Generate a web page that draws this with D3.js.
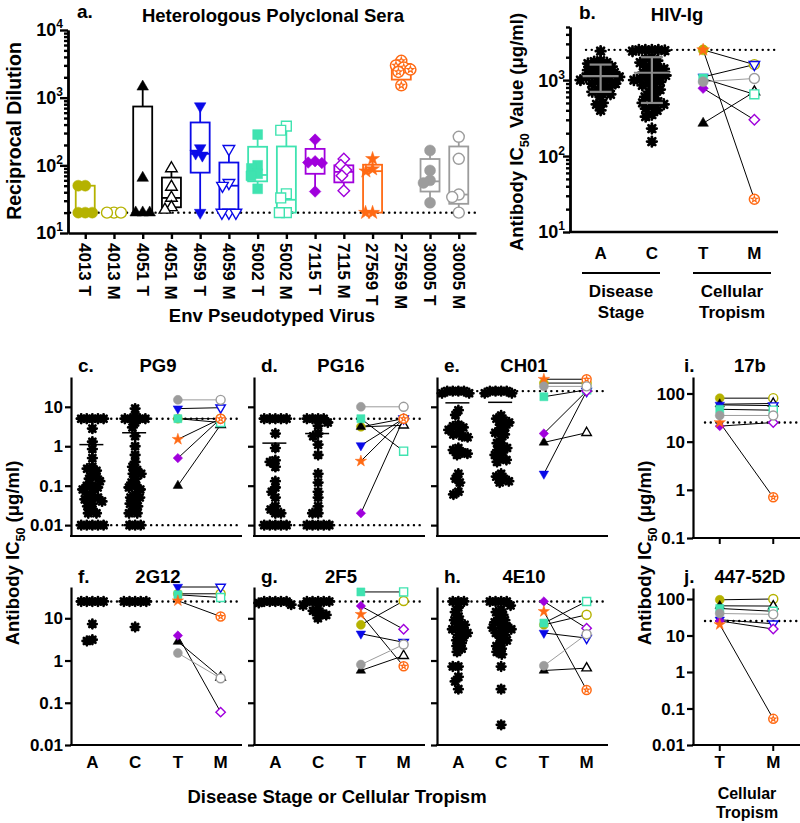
<!DOCTYPE html>
<html>
<head>
<meta charset="utf-8">
<script src="https://cdn.jsdelivr.net/npm/d3@7"></script>
<style>
  body { margin: 0; background: #fff; }
  text { font-family: 'Liberation Sans', Arial, sans-serif; font-weight: bold; fill: #000; }
</style>
</head>
<body>
<svg id="fig" width="800" height="823"></svg>
<script>
// ---- data ----
const viruses = ['4013', '4051', '4059', '5002', '7115', '27569', '30005']
const virusColor = ['#b5b200', '#000000', '#0a0ae8', '#3fe3b0', '#a000dc', '#ff6a14', '#9c9c9c']
const virusShape = ['circle', 'triangleUp', 'triangleDown', 'square', 'diamond', 'star', 'circle']

// panel a: heterologous polyclonal sera
const seraLabels = viruses.flatMap(v => [v + ' T', v + ' M'])
const seraPoints = [
    [50, 50, 20, 20, 20],
    [20, 20, 20],
    [1450, 65, 20, 20, 20],
    [90, 48, 33, 24, 22],
    [750, 180, 150, 140, 20],
    [175, 55, 50, 20, 20, 20],
    [285, 100, 90, 75, 70, 45],
    [380, 330, 38, 33, 20, 20],
    [240, 115, 110, 108, 41],
    [124, 100, 85, 70, 42],
    [125, 88, 82, 20, 20],
    [3500, 3000, 2800, 2600, 2400, 1520],
    [166, 84, 60, 55, 28],
    [264, 125, 37, 34, 20]
]
// min, q1, median, q3, max
const seraBoxes = [
    [20, 20, 20, 50, 50],
    [20, 20, 20, 20, 20],
    [20, 20, 20, 740, 1450],
    [22, 24, 33, 66, 90],
    [20, 78, 148, 430, 750],
    [20, 22, 50, 110, 175],
    [45, 58, 72, 188, 285],
    [20, 20, 31, 190, 380],
    [41, 75, 110, 175, 240],
    [42, 56, 80, 100, 124],
    [20, 20, 82, 102, 125],
    [1520, 1850, 2600, 3150, 3500],
    [28, 41, 58, 124, 166],
    [20, 27, 37, 190, 264]
]
const seraCutoff = 20

// panel b: HIV-Ig
const stageCats = ['A', 'C', 'T', 'M']
const hivigAcute = [2400, 1800, 1750, 1700, 1650, 1500, 1450, 1400, 1350, 1300, 1250, 1200, 1150, 1100, 1100, 1050, 1000, 1000, 950, 900, 900, 850, 800, 750, 700, 700, 650, 600, 500, 480, 400]
const hivigChronic = [2500, 2500, 2500, 2500, 2450, 2400, 2000, 1900, 1800, 1700, 1600, 1500, 1450, 1400, 1300, 1250, 1200, 1150, 1100, 1050, 1000, 1000, 950, 900, 850, 800, 750, 700, 650, 600, 550, 520, 500, 480, 450, 420, 400, 350, 330, 230, 155]
const hivigMeanSd = [[1130, 700, 1600], [1250, 500, 2000]]
const hivigT = [2500, 270, 1100, 1050, 780, 2500, 950]
const hivigM = [1600, 700, 1600, 650, 300, 27, 1050]
const hivigCutoff = 2500

// panels c-j: monoclonal antibodies (T / M ordered like viruses)
const pg9Acute = [5, 5, 5, 5, 5, 2.8, 1.3, 0.85, 0.5, 0.3, 0.27, 0.24, 0.2, 0.17, 0.15, 0.13, 0.1, 0.1, 0.09, 0.08, 0.07, 0.06, 0.05, 0.05, 0.045, 0.04, 0.035, 0.03, 0.025, 0.02, 0.02, 0.01, 0.01, 0.01, 0.01, 0.01]
const pg9Chronic = [9, 6, 5, 5, 5, 5, 4, 3, 1.8, 1, 0.6, 0.4, 0.3, 0.25, 0.2, 0.2, 0.15, 0.12, 0.1, 0.09, 0.08, 0.06, 0.05, 0.05, 0.04, 0.035, 0.03, 0.025, 0.02, 0.02, 0.01, 0.01, 0.01]
const pg9Means = [1.1, 2.2]
const pg9T = [5, 0.1, 9, 5, 0.5, 1.5, 15]
const pg9M = [5, 3.5, 9.5, 4, 5, 5, 15]

const pg16Acute = [5, 5, 5, 5, 5, 2.1, 0.9, 0.44, 0.4, 0.3, 0.13, 0.09, 0.07, 0.05, 0.03, 0.025, 0.02, 0.02, 0.01, 0.01, 0.01, 0.01, 0.01]
const pg16Chronic = [5, 5, 5, 5, 4, 3.3, 2.1, 1.8, 1.1, 0.6, 0.2, 0.12, 0.07, 0.05, 0.03, 0.02, 0.02, 0.01, 0.01, 0.01, 0.01, 0.01]
const pg16Means = [1.2, 2.1]
const pg16T = [3.1, 3.1, 1.05, 5, 0.02, 0.42, 10]
const pg16M = [5, 3.4, 5, 0.75, 5, 5, 10]

const ch01Acute = [25, 25, 25, 25, 22, 22, 8.2, 6.2, 3.5, 3.2, 3, 2.6, 2.3, 2, 1.8, 1.7, 0.9, 0.8, 0.7, 0.65, 0.6, 0.2, 0.15, 0.12, 0.07, 0.06]
const ch01Chronic = [25, 25, 25, 25, 22, 22, 6, 5, 4.5, 4, 3.5, 3, 2.5, 2.2, 2, 1.5, 1.2, 1, 0.9, 0.8, 0.7, 0.6, 0.5, 0.45, 0.4, 0.2, 0.17, 0.15, 0.13, 0.12]
const ch01Means = [12.6, 13]
const ch01T = [40, 1.25, 0.2, 18, 2.1, 50, 33]
const ch01M = [40, 2.2, 25, 27, 25, 50, 33]

const mab2G12Acute = [25, 25, 25, 25, 25, 7.3, 3.1, 2.9]
const mab2G12Chronic = [25, 25, 25, 25, 25, 6.2]
const mab2G12T = [38, 2.8, 55, 36, 3.9, 26, 1.5]
const mab2G12M = [38, 0.4, 55, 31, 0.06, 11, 0.38]

const mab2F5Acute = [25, 25, 25, 25, 25, 23, 21]
const mab2F5Chronic = [25, 25, 25, 25, 25, 20, 17, 15, 13, 12, 10]
const mab2F5T = [7, 0.58, 4.3, 42, 19.5, 12.4, 0.8]
const mab2F5M = [25.7, 1.3, 2.7, 42, 5.5, 0.73, 2.4]

const mab4E10Acute = [25, 25, 25, 18, 14, 11, 9, 8, 7, 6, 5.5, 5, 4.5, 4, 3.5, 3, 2.6, 2.2, 1.9, 1.6, 0.72, 0.72, 0.41, 0.32, 0.21]
const mab4E10Chronic = [25, 25, 25, 25, 20, 16, 14, 12, 10, 9, 8, 7, 6.5, 6, 5.5, 5, 4.5, 4, 3.5, 3, 2.6, 2.2, 1.9, 1.6, 1.4, 0.72, 0.21, 0.03]
const mab4E10T = [7, 0.58, 4.5, 7.7, 25, 14.5, 0.75]
const mab4E10M = [12.1, 0.66, 3.4, 25, 5.8, 0.2, 4.2]

const mab17bT = [80, 60, 58, 47, 21, 25, 35]
const mab17bM = [80, 62, 56, 45, 25, 0.7, 35]

const mab44752dT = [95, 65, 27, 55, 25, 20, 40]
const mab44752dM = [100, 64, 21, 46, 15, 0.052, 38]

// ---- helpers ----
const svg = d3.select('#fig')

function swarm(values, y, dist) {
    const placed = []
    const out = new Array(values.length)
    const order = values.map((v, i) => i).sort((a, b) => values[b] - values[a])
    order.forEach(i => {
        const py = y(values[i])
        const blocked = []
        placed.forEach(p => {
            const dy = Math.abs(p.y - py)
            if (dy < dist) {
                const w = Math.sqrt(dist * dist - dy * dy)
                blocked.push([p.x - w, p.x + w])
            }
        })
        const cands = [0]
        blocked.forEach(b => cands.push(b[0], b[1]))
        cands.sort((a, b) => Math.abs(a) - Math.abs(b))
        const x = cands.find(c => blocked.every(b => c <= b[0] + 1e-6 || c >= b[1] - 1e-6))
        placed.push({ x, y: py })
        out[i] = x
    })
    return out
}

function marker(g, shape, x, y, s, color, filled) {
    const grp = g.append('g').attr('transform', `translate(${x},${y})`)
    if (shape === 'star' && !filled) {
        grp.append('circle').attr('r', s / 2).attr('fill', '#fff').attr('stroke', color).attr('stroke-width', 1.5)
        grp.append('path').attr('d', d3.symbol(d3.symbolStar, 0.12 * s * s)())
            .attr('fill', 'none').attr('stroke', color).attr('stroke-width', 1.1)
        return
    }
    let type = d3.symbolCircle, area = Math.PI * s * s / 4, rot = 0
    if (shape === 'triangleUp') { type = d3.symbolTriangle; area = 0.48 * s * s }
    if (shape === 'triangleDown') { type = d3.symbolTriangle; area = 0.48 * s * s; rot = 180 }
    if (shape === 'square') { type = d3.symbolSquare; area = 0.8 * s * s }
    if (shape === 'diamond') { type = d3.symbolSquare; area = 0.55 * s * s; rot = 45 }
    if (shape === 'star') { type = d3.symbolStar; area = 0.5 * s * s }
    grp.append('path').attr('d', d3.symbol(type, area)())
        .attr('transform', `rotate(${rot})`)
        .attr('fill', filled ? color : '#fff')
        .attr('stroke', color)
        .attr('stroke-width', filled ? 0.5 : 1.4)
}

function asterisk(g, x, y, r) {
    const arms = [0, 45, 90, 135].map(a => {
        const c = Math.cos(a * Math.PI / 180) * r, s = Math.sin(a * Math.PI / 180) * r
        return `M${x - c},${y - s}L${x + c},${y + s}`
    }).join('')
    g.append('path').attr('d', arms).attr('stroke', '#000').attr('stroke-width', 2.8).attr('stroke-linecap', 'round')
    g.append('circle').attr('cx', x).attr('cy', y).attr('r', r * 0.72).attr('fill', '#000')
}

function dotted(g, x0, x1, y) {
    g.append('line').attr('x1', x0).attr('x2', x1).attr('y1', y).attr('y2', y)
        .attr('stroke', '#000').attr('stroke-width', 2.4)
        .attr('stroke-dasharray', '0.1 5.6').attr('stroke-linecap', 'round')
}

function styleAxis(sel, width) {
    sel.select('.domain').attr('stroke-width', width)
    sel.selectAll('.tick line').attr('stroke-width', width)
    sel.selectAll('.tick text').remove()
}

function powLabel(g, x, y, exp) {
    const t = g.append('text').attr('x', x).attr('y', y).attr('dy', '0.36em')
        .attr('text-anchor', 'end').attr('font-size', 18)
    t.append('tspan').text('10')
    t.append('tspan').attr('font-size', 12).attr('dy', -8).text(exp)
}

function icLabel(g, x, y, size, middle) {
    const t = g.append('text').attr('transform', `translate(${x},${y}) rotate(-90)`)
        .attr('text-anchor', 'middle').attr('font-size', size)
    t.append('tspan').text('Antibody IC')
    t.append('tspan').attr('font-size', size * 0.68).attr('dy', size * 0.3).text('50')
    t.append('tspan').attr('dy', -size * 0.3).text(middle + '(\u03bcg/ml)')
}

function minorTicks(lo, hi) {
    const out = []
    for (let e = Math.floor(Math.log10(lo)); e < Math.log10(hi); e++) {
        for (let k = 2; k < 10; k++) {
            const v = k * 10 ** e
            if (v > lo && v <= hi) out.push(v)
        }
    }
    return out
}

// ---- panel a ----
const aX = d3.scalePoint().domain(seraLabels).range([68, 476]).padding(0.6)
const aY = d3.scaleLog().domain([10, 10000]).range([233, 30])
const pa = svg.append('g')

pa.append('g').attr('transform', 'translate(68,0)')
    .call(d3.axisLeft(aY).tickValues(minorTicks(10, 10000)).tickSize(4).tickSizeOuter(0))
    .call(s => styleAxis(s, 2.4))
pa.append('g').attr('transform', 'translate(68,0)')
    .call(d3.axisLeft(aY).tickValues([10, 100, 1000, 10000]).tickSize(8).tickSizeOuter(0))
    .call(s => styleAxis(s, 2.4))
;[10, 100, 1000, 10000].forEach(v => powLabel(pa, 63, aY(v), Math.log10(v)))

pa.append('g').attr('transform', 'translate(0,233)')
    .call(d3.axisBottom(aX).tickSize(6).tickSizeOuter(0))
    .call(s => styleAxis(s, 2.4))
seraLabels.forEach(l => {
    pa.append('text').attr('transform', `translate(${aX(l)},243) rotate(90)`)
        .attr('dy', '0.36em').attr('font-size', 17).text(l)
})
dotted(pa, 70, 476, aY(seraCutoff))

seraBoxes.forEach((b, i) => {
    const cx = aX(seraLabels[i]), col = virusColor[Math.floor(i / 2)], w = 19
    const bg = pa.append('g').attr('stroke', col).attr('stroke-width', 1.8).attr('fill', 'none')
    bg.append('line').attr('x1', cx).attr('x2', cx).attr('y1', aY(b[4])).attr('y2', aY(b[3]))
    bg.append('line').attr('x1', cx).attr('x2', cx).attr('y1', aY(b[1])).attr('y2', aY(b[0]))
    bg.append('rect').attr('x', cx - w / 2).attr('width', w)
        .attr('y', aY(b[3])).attr('height', Math.max(0.5, aY(b[1]) - aY(b[3])))
    bg.append('line').attr('x1', cx - w / 2).attr('x2', cx + w / 2).attr('y1', aY(b[2])).attr('y2', aY(b[2]))
})
seraPoints.forEach((pts, i) => {
    const vi = Math.floor(i / 2), filled = i % 2 === 0, cx = aX(seraLabels[i])
    const xs = swarm(pts, aY, 7)
    pts.forEach((v, j) => marker(pa, virusShape[vi], cx + xs[j], aY(v), 11, virusColor[vi], filled))
})

pa.append('text').attr('x', 77).attr('y', 18).attr('font-size', 19).text('a.')
pa.append('text').attr('x', 273).attr('y', 22).attr('text-anchor', 'middle').attr('font-size', 18.5).text('Heterologous Polyclonal Sera')
pa.append('text').attr('transform', 'translate(21,131) rotate(-90)').attr('text-anchor', 'middle').attr('font-size', 19.5).text('Reciprocal Dilution')
pa.append('text').attr('x', 272).attr('y', 322).attr('text-anchor', 'middle').attr('font-size', 18.5).text('Env Pseudotyped Virus')

// ---- panel b ----
const bX = d3.scalePoint().domain(stageCats).range([575, 780]).padding(0.5)
const bY = d3.scaleLog().domain([10, 5000]).range([232, 27])
const pb = svg.append('g')

pb.append('g').attr('transform', 'translate(570,0)')
    .call(d3.axisLeft(bY).tickValues(minorTicks(10, 5000)).tickSize(4).tickSizeOuter(0))
    .call(s => styleAxis(s, 2.4))
pb.append('g').attr('transform', 'translate(570,0)')
    .call(d3.axisLeft(bY).tickValues([10, 100, 1000]).tickSize(7).tickSizeOuter(0))
    .call(s => styleAxis(s, 2.4))
;[10, 100, 1000].forEach(v => powLabel(pb, 565, bY(v), Math.log10(v)))
pb.append('line').attr('x1', 569).attr('x2', 778).attr('y1', 232).attr('y2', 232).attr('stroke', '#000').attr('stroke-width', 2.4)
dotted(pb, 586, 778, bY(hivigCutoff))

;[hivigAcute, hivigChronic].forEach((vals, k) => {
    const cx = bX(stageCats[k])
    const xs = swarm(vals, bY, 6.5)
    vals.forEach((v, j) => asterisk(pb, cx + xs[j], bY(v), 4.8))
    const [m, lo, hi] = hivigMeanSd[k]
    const eg = pb.append('g').attr('stroke', '#8a8a8a').attr('stroke-width', 2.2)
    eg.append('line').attr('x1', cx - 18).attr('x2', cx + 18).attr('y1', bY(m)).attr('y2', bY(m))
    eg.append('line').attr('x1', cx).attr('x2', cx).attr('y1', bY(lo)).attr('y2', bY(hi))
    eg.append('line').attr('x1', cx - 11).attr('x2', cx + 11).attr('y1', bY(lo)).attr('y2', bY(lo))
    eg.append('line').attr('x1', cx - 11).attr('x2', cx + 11).attr('y1', bY(hi)).attr('y2', bY(hi))
})
hivigT.forEach((v, i) => {
    pb.append('line').attr('x1', bX('T')).attr('x2', bX('M')).attr('y1', bY(v)).attr('y2', bY(hivigM[i]))
        .attr('stroke', i === 6 ? '#9c9c9c' : '#000').attr('stroke-width', 1)
})
hivigT.forEach((v, i) => marker(pb, virusShape[i], bX('T'), bY(v), 10, virusColor[i], true))
hivigM.forEach((v, i) => marker(pb, virusShape[i], bX('M'), bY(v), 10, virusColor[i], false))

stageCats.forEach(c => pb.append('text').attr('x', bX(c)).attr('y', 259).attr('text-anchor', 'middle').attr('font-size', 17).text(c))
pb.append('line').attr('x1', 582).attr('x2', 660).attr('y1', 273).attr('y2', 273).attr('stroke', '#000').attr('stroke-width', 2)
pb.append('line').attr('x1', 693).attr('x2', 771).attr('y1', 273).attr('y2', 273).attr('stroke', '#000').attr('stroke-width', 2)
;[['Disease', 'Stage', 621], ['Cellular', 'Tropism', 732]].forEach(([l1, l2, x]) => {
    pb.append('text').attr('x', x).attr('y', 297).attr('text-anchor', 'middle').attr('font-size', 17).text(l1)
    pb.append('text').attr('x', x).attr('y', 318).attr('text-anchor', 'middle').attr('font-size', 17).text(l2)
})
pb.append('text').attr('x', 579).attr('y', 19).attr('font-size', 19).text('b.')
pb.append('text').attr('x', 677).attr('y', 21).attr('text-anchor', 'middle').attr('font-size', 18.5).text('HIV-Ig')
icLabel(pb, 523, 132, 18.5, ' Value ')

// ---- panels c-j ----
const lowerPanels = [
    { key: 'c.', name: 'PG9', x0: 71, x1: 242, top: 377, bottom: 536, domain: [0.0053, 57], ticks: [0.01, 0.1, 1, 10], labels: true, cut: [5, 0.01], acute: pg9Acute, chronic: pg9Chronic, means: pg9Means, t: pg9T, m: pg9M, titleY: 372, cats: stageCats, xLabels: false },
    { key: 'd.', name: 'PG16', x0: 254, x1: 425, top: 377, bottom: 536, domain: [0.0053, 57], ticks: [0.01, 0.1, 1, 10], labels: false, cut: [5, 0.01], acute: pg16Acute, chronic: pg16Chronic, means: pg16Means, t: pg16T, m: pg16M, titleY: 372, cats: stageCats, xLabels: false },
    { key: 'e.', name: 'CH01', x0: 437, x1: 608, top: 377, bottom: 536, domain: [0.0053, 57], ticks: [0.01, 0.1, 1, 10], labels: false, cut: [25], acute: ch01Acute, chronic: ch01Chronic, means: ch01Means, t: ch01T, m: ch01M, titleY: 372, cats: stageCats, xLabels: false },
    { key: 'f.', name: '2G12', x0: 71, x1: 242, top: 587, bottom: 745, domain: [0.01, 55], ticks: [0.01, 0.1, 1, 10], labels: true, cut: [25], acute: mab2G12Acute, chronic: mab2G12Chronic, means: null, t: mab2G12T, m: mab2G12M, titleY: 583, cats: stageCats, xLabels: true },
    { key: 'g.', name: '2F5', x0: 254, x1: 425, top: 587, bottom: 745, domain: [0.01, 55], ticks: [0.01, 0.1, 1, 10], labels: false, cut: [25], acute: mab2F5Acute, chronic: mab2F5Chronic, means: null, t: mab2F5T, m: mab2F5M, titleY: 583, cats: stageCats, xLabels: true },
    { key: 'h.', name: '4E10', x0: 437, x1: 608, top: 587, bottom: 745, domain: [0.01, 55], ticks: [0.01, 0.1, 1, 10], labels: false, cut: [25], acute: mab4E10Acute, chronic: mab4E10Chronic, means: null, t: mab4E10T, m: mab4E10M, titleY: 583, cats: stageCats, xLabels: true },
    { key: 'i.', name: '17b', x0: 693, x1: 800, top: 377, bottom: 538, domain: [0.1, 220], ticks: [0.1, 1, 10, 100], labels: true, cut: [25], acute: null, chronic: null, means: null, t: mab17bT, m: mab17bM, titleY: 372, cats: ['T', 'M'], xLabels: false, xTicks: true },
    { key: 'j.', name: '447-52D', x0: 693, x1: 800, top: 588, bottom: 745, domain: [0.01, 200], ticks: [0.01, 0.1, 1, 10, 100], labels: true, cut: [25], acute: null, chronic: null, means: null, t: mab44752dT, m: mab44752dM, titleY: 583, cats: ['T', 'M'], xLabels: true, xTicks: true }
]

lowerPanels.forEach(p => {
    const g = svg.append('g')
    const x = d3.scalePoint().domain(p.cats).range([p.x0, p.x1]).padding(0.5)
    const y = d3.scaleLog().domain(p.domain).range([p.bottom, p.top])
    const small = p.cats.length === 2

    g.append('g').attr('transform', `translate(${p.x0},0)`)
        .call(d3.axisLeft(y).tickValues(p.ticks).tickSize(6).tickSizeOuter(0))
        .call(s => styleAxis(s, 2.2))
    if (p.labels) {
        p.ticks.forEach(v => g.append('text').attr('x', p.x0 - 8).attr('y', y(v)).attr('dy', '0.36em')
            .attr('text-anchor', 'end').attr('font-size', 17).text(d3.format('~g')(v)))
    }
    g.append('line').attr('x1', p.x0 - 1).attr('x2', p.x1).attr('y1', p.bottom).attr('y2', p.bottom)
        .attr('stroke', '#000').attr('stroke-width', 2.2)
    if (p.xTicks) {
        p.cats.forEach(c => g.append('line').attr('x1', x(c)).attr('x2', x(c)).attr('y1', p.bottom).attr('y2', p.bottom + 6)
            .attr('stroke', '#000').attr('stroke-width', 2))
    }
    p.cut.forEach(v => dotted(g, p.x0 + (small ? 12 : 6), p.x1, y(v)))

    if (p.acute) {
        ;[p.acute, p.chronic].forEach((vals, k) => {
            const cx = x(p.cats[k])
            const xs = swarm(vals, y, 5.6)
            vals.forEach((v, j) => asterisk(g, cx + xs[j], y(v), 4.3))
            if (p.means) {
                g.append('line').attr('x1', cx - 13).attr('x2', cx + 11).attr('y1', y(p.means[k])).attr('y2', y(p.means[k]))
                    .attr('stroke', '#000').attr('stroke-width', 1.5)
            }
        })
    }
    p.t.forEach((v, i) => {
        g.append('line').attr('x1', x('T')).attr('x2', x('M')).attr('y1', y(v)).attr('y2', y(p.m[i]))
            .attr('stroke', i === 6 ? '#9c9c9c' : '#000').attr('stroke-width', 1)
    })
    p.t.forEach((v, i) => marker(g, virusShape[i], x('T'), y(v), 9, virusColor[i], true))
    p.m.forEach((v, i) => marker(g, virusShape[i], x('M'), y(v), 9, virusColor[i], false))

    if (p.xLabels) {
        p.cats.forEach(c => g.append('text').attr('x', x(c)).attr('y', 768).attr('text-anchor', 'middle').attr('font-size', 17).text(c))
    }
    g.append('text').attr('x', small ? p.x0 - 9 : p.x0 + 7).attr('y', p.titleY).attr('font-size', 19).text(p.key)
    g.append('text').attr('x', small ? 750 : p.x0 + 87).attr('y', p.titleY).attr('text-anchor', 'middle').attr('font-size', 18.5).text(p.name)
})

icLabel(svg, 19, 553, 18.5, '  ')
icLabel(svg, 651, 553, 18.5, '  ')
svg.append('text').attr('x', 337).attr('y', 803).attr('text-anchor', 'middle').attr('font-size', 18.5).text('Disease Stage or Cellular Tropism')
svg.append('text').attr('x', 747).attr('y', 799).attr('text-anchor', 'middle').attr('font-size', 16).text('Cellular')
svg.append('text').attr('x', 747).attr('y', 818).attr('text-anchor', 'middle').attr('font-size', 16).text('Tropism')
</script>
</body>
</html>
